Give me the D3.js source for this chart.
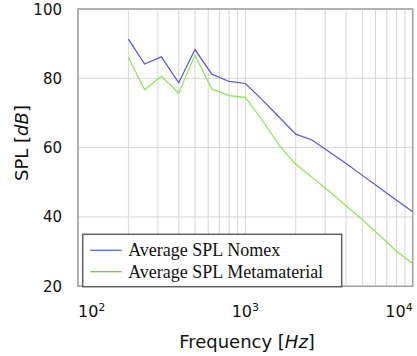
<!DOCTYPE html>
<html>
<head>
<meta charset="utf-8">
<script src="https://cdn.jsdelivr.net/npm/d3@7"></script>
<style>
  body { margin: 0; background: #fff; }
</style>
</head>
<body>
<div id="my_dataviz"></div>
<script>
// third-octave band centres [Hz]
var freqs = [200, 250, 315, 400, 500, 630, 800, 1000, 1250, 1600, 2000, 2500, 3150, 4000, 5000, 6300, 8000, 10000];
// Average SPL Nomex [dB]
var splNomex = [91.3, 84.1, 86.2, 78.7, 88.3, 81.2, 79.1, 78.5, 74.0, 68.7, 63.9, 62.2, 58.9, 55.4, 52.0, 48.5, 44.8, 41.5];
// Average SPL Metamaterial [dB]
var splMeta = [86.1, 76.7, 80.6, 75.8, 86.7, 76.9, 75.0, 74.5, 68.2, 60.5, 55.2, 51.5, 47.5, 43.2, 39.2, 34.8, 30.1, 26.6];

var yTicks = [20, 40, 60, 80, 100];
var xTicks = [100, 1000, 10000];
var xTickExp = ["2", "3", "4"];
var legendLabels = ["Average SPL Nomex", "Average SPL Metamaterial"];

var colBlue = "#5656dc", colGreen = "#86e84e";
var legBlue = "#4a78cc", legGreen = "#7cc23c";

// set the dimensions and margins of the graph
var margin = {top: 9, right: 4, bottom: 70, left: 78},
    width = 417 - margin.left - margin.right,
    height = 356 - margin.top - margin.bottom;

var svg = d3.select("#my_dataviz")
  .append("svg")
    .attr("width", 417)
    .attr("height", 356)
  .append("g")
    .attr("transform", "translate(" + margin.left + "," + margin.top + ")");

var x = d3.scaleLog()
  .domain([100, 10000])
  .range([0, 334.7]);

var y = d3.scaleLinear()
  .domain([20, 100])
  .range([277.3, 0]);

var plotW = x(10000), plotH = y(20);

// vertical grid (major + minor decades)
var vGrid = [];
[100, 1000].forEach(function(dec) {
  for (var k = 2; k <= 9; k++) vGrid.push(dec * k);
});
vGrid = vGrid.concat(xTicks);

svg.selectAll(".vgrid")
  .data(vGrid)
  .enter().append("line")
  .attr("x1", function(d) { return x(d); })
  .attr("x2", function(d) { return x(d); })
  .attr("y1", 0)
  .attr("y2", plotH)
  .style("stroke", "#d6d6d6")
  .style("stroke-width", 1);

svg.selectAll(".hgrid")
  .data(yTicks)
  .enter().append("line")
  .attr("x1", 0)
  .attr("x2", plotW)
  .attr("y1", function(d) { return y(d); })
  .attr("y2", function(d) { return y(d); })
  .style("stroke", "#d6d6d6")
  .style("stroke-width", 1);

// frame
svg.append("rect")
  .attr("x", 0)
  .attr("y", 0)
  .attr("width", plotW)
  .attr("height", plotH)
  .style("fill", "none")
  .style("stroke", "#a0a0a0")
  .style("stroke-width", 1.5);

// y tick labels
svg.selectAll(".ylab")
  .data(yTicks)
  .enter().append("text")
  .attr("x", -16)
  .attr("y", function(d) { return y(d) + 5.5; })
  .attr("text-anchor", "end")
  .attr("font-family", "DejaVu Sans")
  .attr("font-size", 15)
  .attr("fill", "#111")
  .text(function(d) { return d; });

// x tick labels 10^n
var xl = svg.selectAll(".xlab")
  .data(xTicks)
  .enter().append("text")
  .attr("x", function(d) { return x(d); })
  .attr("y", 308)
  .attr("text-anchor", function(d, i) { return i == 0 ? "start" : (i == xTicks.length - 1 ? "end" : "middle"); })
  .attr("font-family", "DejaVu Sans")
  .attr("font-size", 16)
  .attr("fill", "#111");
xl.append("tspan").text("10");
xl.append("tspan")
  .attr("dy", -6)
  .attr("font-size", 11)
  .text(function(d, i) { return xTickExp[i]; });

// axis titles
var xt = svg.append("text")
  .attr("x", 169)
  .attr("y", 339)
  .attr("text-anchor", "middle")
  .attr("font-family", "DejaVu Sans")
  .attr("font-size", 18)
  .attr("fill", "#111");
xt.append("tspan").text("Frequency [");
xt.append("tspan").attr("font-style", "italic").text("Hz");
xt.append("tspan").text("]");

var yt = svg.append("text")
  .attr("transform", "translate(-50," + 134 + ") rotate(-90)")
  .attr("text-anchor", "middle")
  .attr("font-family", "DejaVu Sans")
  .attr("font-size", 18)
  .attr("fill", "#111");
yt.append("tspan").text("SPL [");
yt.append("tspan").attr("font-style", "italic").text("dB");
yt.append("tspan").text("]");

// lines
var line = d3.line()
  .x(function(d, i) { return x(freqs[i]); })
  .y(function(d) { return y(d); });

svg.append("path")
  .datum(splMeta)
  .attr("fill", "none")
  .attr("stroke", colGreen)
  .attr("stroke-width", 1.2)
  .attr("d", line);

svg.append("path")
  .datum(splNomex)
  .attr("fill", "none")
  .attr("stroke", colBlue)
  .attr("stroke-width", 1.2)
  .attr("d", line);

// legend
var leg = svg.append("g")
  .attr("transform", "translate(4.7,225.3)");
leg.append("rect")
  .attr("width", 259)
  .attr("height", 52.4)
  .style("fill", "#fff")
  .style("stroke", "#606060")
  .style("stroke-width", 1.5);

var legCols = [legBlue, legGreen];
legendLabels.forEach(function(lab, i) {
  leg.append("line")
    .attr("x1", 7.5)
    .attr("x2", 39)
    .attr("y1", 16 + i * 21.4)
    .attr("y2", 16 + i * 21.4)
    .style("stroke", legCols[i])
    .style("stroke-width", 1.3);
  leg.append("text")
    .attr("x", 45.5)
    .attr("y", 22 + i * 21.4)
    .attr("font-family", "Liberation Serif")
    .attr("font-size", 18)
    .attr("fill", "#111")
    .text(lab);
});
</script>
</body>
</html>
